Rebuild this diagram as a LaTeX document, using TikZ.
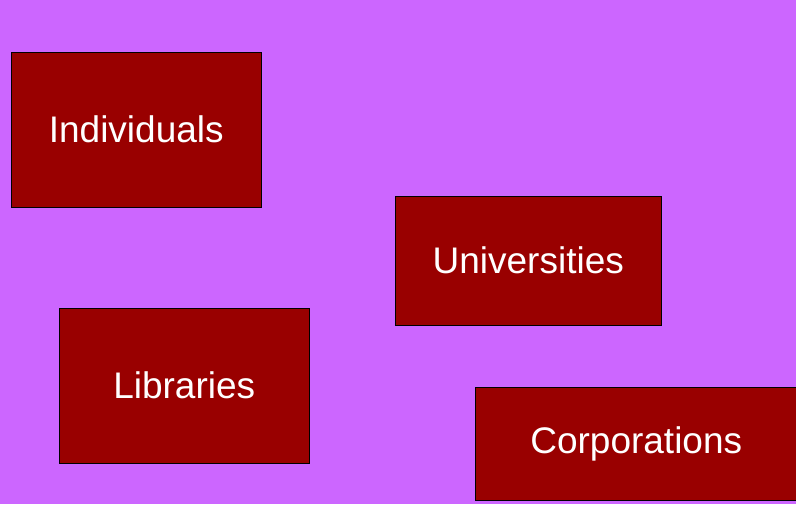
\documentclass[tikz,border=0pt]{standalone}
\usepackage{fontspec}
\setmainfont{Liberation Sans}
\definecolor{bgpurple}{HTML}{CC66FF}
\definecolor{boxred}{HTML}{990000}
\begin{document}
\begin{tikzpicture}[x=1pt,y=-1pt,
  entity/.style={draw=black, line width=1.5pt, fill=boxred, text=white,
    font=\fontsize{37}{40}\selectfont, inner sep=0pt, anchor=north west}]
\fill[bgpurple] (0,0) rectangle (796,504);
\useasboundingbox (0,0) rectangle (796,504);
\node[entity, minimum width=250pt, minimum height=155pt] (ind) at (10.5,51.5) {Individuals};
\node[entity, minimum width=266pt, minimum height=129pt] (uni) at (394.5,195.5) {Universities};
\node[entity, minimum width=250pt, minimum height=155pt] (lib) at (58.5,307.5) {Libraries};
\node[entity, minimum width=322pt, minimum height=113pt] (cor) at (474.5,386.5) {Corporations};
\end{tikzpicture}
\end{document}
